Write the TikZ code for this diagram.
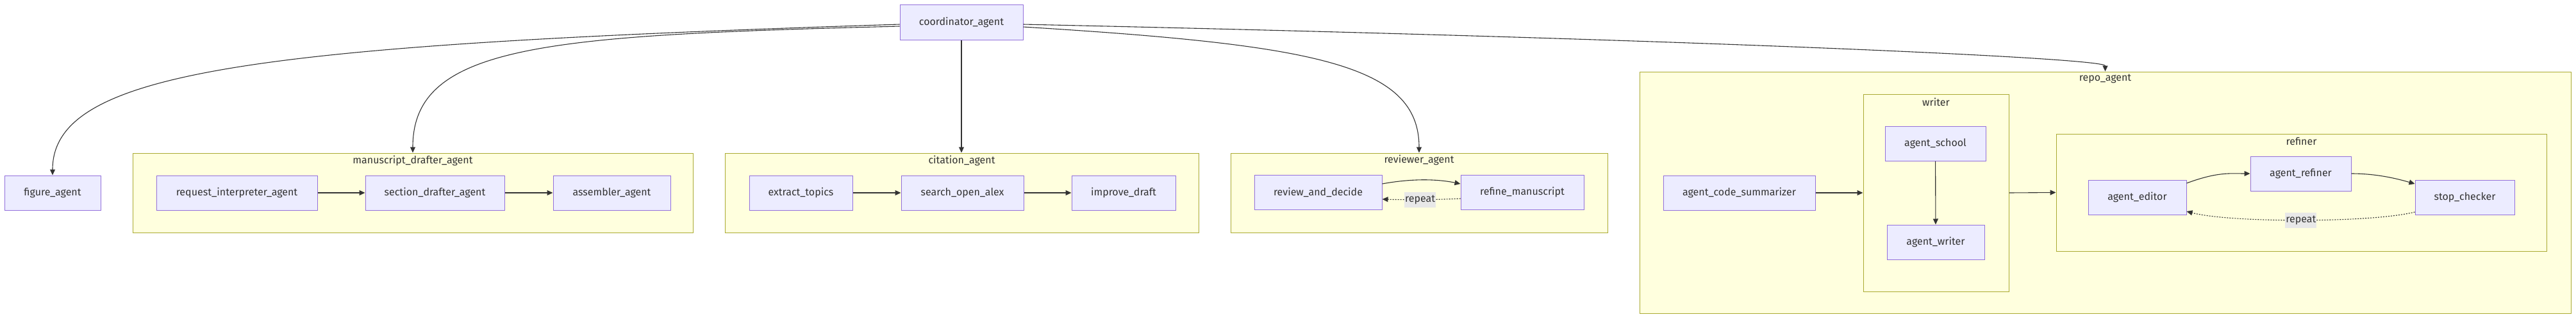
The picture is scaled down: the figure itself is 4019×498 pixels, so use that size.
\documentclass[tikz,border=0pt]{standalone}
\usepackage{fontspec}
\setmainfont{Fira Sans}
\usepackage{tikz}
\usetikzlibrary{arrows.meta,positioning}
\definecolor{nodefill}{HTML}{ECECFF}
\definecolor{nodeline}{HTML}{9370DB}
\definecolor{groupfill}{HTML}{FFFFDE}
\definecolor{groupline}{HTML}{AAAA33}
\definecolor{inkgray}{HTML}{333333}
\definecolor{labelfill}{HTML}{E8E8E8}
\newcommand{\agentfont}{\fontsize{16}{19}\selectfont}
\tikzstyle{agent}=[rectangle, draw=nodeline, line width=1pt, fill=nodefill,
  minimum height=54pt, text=inkgray, font=\agentfont, inner sep=0pt]
\tikzstyle{group}=[rectangle, draw=groupline, line width=1pt, fill=groupfill,
  inner sep=0pt]
\tikzstyle{grouptitle}=[text=inkgray, font=\agentfont, inner sep=0pt]
\tikzstyle{flow}=[-{Triangle[length=9pt,width=8pt]}, line width=1.1pt, draw=inkgray]
\tikzstyle{loopback}=[flow, dash pattern=on 2pt off 2pt]
\tikzstyle{edgelabel}=[fill=labelfill, text=inkgray, font=\agentfont,
  inner xsep=1pt, minimum height=24pt]

\begin{document}
\begin{tikzpicture}[x=1pt, y=-1pt]
    \useasboundingbox (0,0) rectangle (4019,498);

    % Subgraph frames, drawn first so they sit behind the agents
    \node[group, minimum width=874pt, minimum height=124pt] (mda) at (644,301) {};
    \node[grouptitle] (mdat) at (644,251) {manuscript\_drafter\_agent};
    \node[group, minimum width=739pt, minimum height=124pt] (cit) at (1500.5,301) {};
    \node[grouptitle] (citt) at (1500.5,251) {citation\_agent};
    \node[group, minimum width=588pt, minimum height=124pt] (rev) at (2214,301) {};
    \node[grouptitle] (revt) at (2214,250) {reviewer\_agent};
    \node[group, minimum width=1453pt, minimum height=377pt] (repo) at (3284.5,300.5) {};
    \node[grouptitle] (repot) at (3284.5,123) {repo\_agent};
    \node[group, minimum width=227pt, minimum height=308pt] (wcl) at (3020.5,301) {};
    \node[grouptitle] (wclt) at (3020.5,159) {writer};
    \node[group, minimum width=765pt, minimum height=183pt] (rcl) at (3590.5,300.5) {};
    \node[grouptitle] (rclt) at (3590.5,221) {refiner};

    % Top: the coordinator
    \node[agent, minimum width=192pt, minimum height=55pt] (coord) at (1500,34.5) {coordinator\_agent};

    % Left: figure agent and the manuscript drafter chain
    \node[agent, minimum width=150pt] (fig) at (82,301) {figure\_agent};
    \node[agent, minimum width=251pt] (req) at (369.5,301) {request\_interpreter\_agent};
    \node[agent, minimum width=217pt, right=74pt of req] (sec) {section\_drafter\_agent};
    \node[agent, minimum width=183pt, right=75pt of sec] (asm) {assembler\_agent};

    % Middle: citation chain and reviewer loop
    \node[agent, minimum width=161pt] (ext) at (1249.5,301) {extract\_topics};
    \node[agent, minimum width=191pt, right=75pt of ext] (srch) {search\_open\_alex};
    \node[agent, minimum width=162pt, right=74pt of srch] (imp) {improve\_draft};
    \node[agent, minimum width=199pt] (rad) at (2056.5,300) {review\_and\_decide};
    \node[agent, minimum width=192pt, right=122pt of rad] (rfm) {refine\_manuscript};

    % Right: repo agent with writer and refiner
    \node[agent, minimum width=237pt] (sum) at (2713.5,301) {agent\_code\_summarizer};
    \node[agent, minimum width=157pt] (sch) at (3019.5,224) {agent\_school};
    \node[agent, minimum width=152pt] (wrt) at (3020,378) {agent\_writer};
    \node[agent, minimum width=153pt] (edt) at (3334.5,308) {agent\_editor};
    \node[agent, minimum width=157pt] (rfr) at (3589.5,271) {agent\_refiner};
    \node[agent, minimum width=155pt] (stp) at (3845.5,308) {stop\_checker};

    % Coordinator fan-out
    \draw[flow] ([yshift=-3.5pt]coord.west) .. controls (400,70) and (82,110) .. (fig.north);
    \draw[flow] ([yshift=-6.5pt]coord.west) .. controls (850,55) and (644,70) .. (mda.north);
    \draw[flow] (coord) -- (cit.north -| coord);
    \draw[flow] ([yshift=-7.5pt]coord.east) .. controls (2050,70) and (2214,100) .. (rev.north);
    \draw[flow] ([yshift=-3.5pt]coord.east) .. controls (2600,60) and (3284.5,90) .. (repo.north);

    % Chains inside the frames
    \draw[flow] (req) -- (sec);
    \draw[flow] (sec) -- (asm);
    \draw[flow] (ext) -- (srch);
    \draw[flow] (srch) -- (imp);
    \draw[flow] ([yshift=13pt]rad.east) .. controls (2200,279) and (2240,279) .. ([yshift=13pt]rfm.west);
    \draw[loopback] ([yshift=-10pt]rfm.west) .. controls (2240,312) and (2190,312) .. ([yshift=-11pt]rad.east)
      node[pos=0.5, edgelabel] (rep1) {repeat};

    \draw[flow] (sum) -- (wcl.west);
    \draw[flow] (sch) -- (wrt);
    \draw[flow] (wcl.east) -- (rcl.west);
    \draw[flow] ([yshift=22pt]edt.east) .. controls (3460,268) and (3480,271) .. (rfr.west);
    \draw[flow] (rfr.east) .. controls (3700,271) and (3730,276) .. ([yshift=21pt]stp.west);
    \draw[loopback] ([yshift=-23pt]stp.west) .. controls (3700,348) and (3480,348) .. ([yshift=-22pt]edt.east)
      node[pos=0.5, edgelabel] (rep2) {repeat};

  \end{tikzpicture}
\end{document}
